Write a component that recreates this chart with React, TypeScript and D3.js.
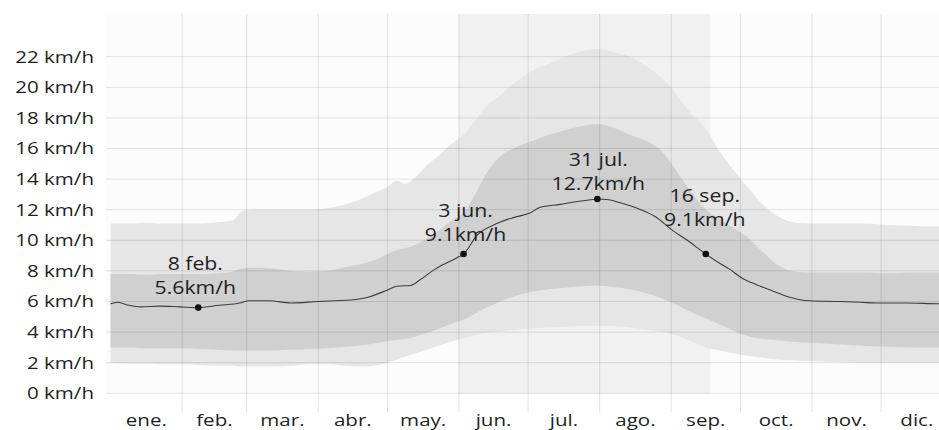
import React from 'react';
import * as d3 from 'd3';

const monthLabels = ['ene.', 'feb.', 'mar.', 'abr.', 'may.', 'jun.', 'jul.', 'ago.', 'sep.', 'oct.', 'nov.', 'dic.'];
const yTicks = [0, 2, 4, 6, 8, 10, 12, 14, 16, 18, 20, 22];

const bandDates = ['01-01','01-09','01-16','01-24','02-01','02-08','02-17','02-23','02-27','03-04','03-12','03-20','03-28','04-05','04-13','04-21','04-27','05-01','05-05','05-09','05-13','05-18','05-23','05-28','06-03','06-08','06-13','06-19','06-26','07-03','07-10','07-17','07-24','07-31','08-07','08-14','08-21','08-28','09-03','09-09','09-16','09-22','09-28','10-04','10-11','10-18','10-25','11-01','11-12','11-23','12-04','12-15','12-24','12-31'];
const p90 = [11.1,11.1,11.15,11.1,11.1,11.1,11.2,11.3,11.9,12.0,12.0,12.0,12.0,12.1,12.35,12.8,13.2,13.5,13.9,13.7,14.1,14.9,15.5,16.2,16.9,17.8,18.8,19.5,20.4,21.1,21.55,22.0,22.35,22.5,22.3,22.0,21.4,20.6,19.6,18.4,17.3,15.8,14.6,13.5,12.3,11.5,11.15,11.1,11.1,11.1,11.0,10.95,10.9,10.9];
const p75 = [7.8,7.8,7.75,7.8,7.8,7.8,7.85,7.95,8.15,8.2,8.15,8.0,7.95,8.0,8.25,8.5,8.8,9.1,9.35,9.5,9.7,10.1,10.6,11.2,11.8,13.0,14.4,15.5,16.1,16.5,16.9,17.2,17.45,17.6,17.35,16.9,16.5,15.8,14.6,13.3,12.0,11.4,10.8,10.2,9.2,8.3,7.95,7.9,7.9,7.9,7.85,7.9,7.9,7.9];
const p25 = [3.0,3.0,2.95,2.95,2.95,2.9,2.85,2.8,2.8,2.8,2.8,2.85,2.9,2.95,3.05,3.15,3.3,3.4,3.5,3.55,3.7,3.95,4.2,4.5,4.8,5.2,5.6,6.0,6.4,6.65,6.8,6.9,7.0,7.05,6.95,6.8,6.55,6.2,5.8,5.35,4.9,4.5,4.1,3.75,3.55,3.45,3.35,3.3,3.2,3.1,3.05,3.0,3.0,3.0];
const p10 = [2.0,1.95,1.95,1.9,1.9,1.85,1.8,1.8,1.75,1.75,1.75,1.8,1.9,1.9,1.8,1.75,1.85,2.0,2.2,2.4,2.6,2.85,3.1,3.35,3.6,3.8,3.95,4.05,4.15,4.25,4.3,4.35,4.4,4.4,4.4,4.3,4.15,4.0,3.8,3.45,3.0,2.8,2.6,2.45,2.3,2.2,2.15,2.1,2.05,2.0,2.0,2.0,2.0,2.0];

const meanDates = ['01-01','01-04','01-09','01-14','01-22','01-31','02-08','02-17','02-26','03-02','03-11','03-20','04-01','04-08','04-15','04-23','05-01','05-05','05-11','05-15','05-21','05-25','05-31','06-03','06-09','06-16','06-19','06-25','07-02','07-06','07-15','07-21','07-28','07-31','08-05','08-10','08-18','08-25','09-02','09-08','09-16','09-22','09-26','10-02','10-08','10-14','10-22','10-31','11-13','11-22','11-30','12-12','12-26','12-31'];
const meanValues = [5.85,5.95,5.75,5.65,5.7,5.65,5.6,5.75,5.9,6.05,6.05,5.9,6.0,6.05,6.1,6.3,6.75,7.0,7.05,7.4,8.05,8.4,8.85,9.1,10.35,11.0,11.2,11.5,11.8,12.15,12.35,12.5,12.65,12.7,12.65,12.45,12.05,11.55,10.6,10.0,9.1,8.5,8.15,7.5,7.1,6.75,6.3,6.05,6.0,5.95,5.9,5.9,5.85,5.85];

const highlightRange = ['06-01', '09-18'];

const annotationDates = ['02-08', '06-03', '07-31', '09-16'];
const annotationValues = [5.6, 9.1, 12.7, 9.1];
const annotationTitles = ['8 feb.', '3 jun.', '31 jul.', '16 sep.'];
const annotationLabels = ['5.6km/h', '9.1km/h', '12.7km/h', '9.1km/h'];

// layout only
const W = 939;
const H = 430;
const annotationOffsets: [number, number][] = [[-3, -14], [2, -13], [1, -9], [-1, -28]];

const parse = d3.timeParse('%Y-%m-%d');
const toDate = (s: string) => parse('2023-' + s) as Date;

export default function App() {
  const x = d3.scaleTime().domain([new Date(2023, 0, 1), new Date(2024, 0, 1)]).range([110.6, 952.6]);
  const y = d3.scaleLinear().domain([0, 22]).range([393.3, 56.7]);

  const bandRows = bandDates.map((d, i) => ({ date: toDate(d), p10: p10[i], p25: p25[i], p75: p75[i], p90: p90[i] }));
  const outerArea = d3.area<any>().x(d => x(d.date)).y0(d => y(d.p10)).y1(d => y(d.p90)).curve(d3.curveMonotoneX);
  const innerArea = d3.area<any>().x(d => x(d.date)).y0(d => y(d.p25)).y1(d => y(d.p75)).curve(d3.curveMonotoneX);
  const meanRows = meanDates.map((d, i) => ({ date: toDate(d), v: meanValues[i] }));
  const meanLine = d3.line<any>().x(d => x(d.date)).y(d => y(d.v)).curve(d3.curveMonotoneX);

  const monthStarts = d3.range(13).map(m => new Date(2023, m, 1));
  const monthCenters = d3.range(12).map(m => (x(monthStarts[m]) + x(monthStarts[m + 1])) / 2);

  const hx0 = x(toDate(highlightRange[0]));
  const hx1 = x(toDate(highlightRange[1]));

  const plotTop = 14;
  const plotBottom = 393.3;
  const vLineBottom = 412;
  const gridLeft = 106;

  const SX = 1.21;
  const SXA = 1.18;
  const font = '"Open Sans", sans-serif';
  const textColor = '#1f1f1f';
  const grid = 'rgba(0,0,0,0.11)';

  return (
    <svg width={W} height={H} style={{ position: 'absolute', left: 0, top: 0, display: 'block' }} fontFamily={font}>
      <rect x={0} y={0} width={W} height={H} fill="#ffffff" />
      <rect x={gridLeft} y={plotTop} width={W - gridLeft} height={plotBottom - plotTop} fill="#fcfcfc" />
      <rect x={hx0} y={plotTop} width={hx1 - hx0} height={plotBottom - plotTop} fill="#f1f1f1" />
      <path d={outerArea(bandRows) || ''} fill="#e6e6e6" />
      <path d={innerArea(bandRows) || ''} fill="#d0d0d0" />
      {yTicks.map(t => (
        <line key={'h' + t} x1={gridLeft} x2={W} y1={y(t)} y2={y(t)} stroke={grid} strokeWidth={1} />
      ))}
      {monthStarts.slice(1, 12).map((d, i) => (
        <line key={'v' + i} x1={x(d)} x2={x(d)} y1={plotTop} y2={vLineBottom} stroke={grid} strokeWidth={1} />
      ))}
      <path d={meanLine(meanRows) || ''} fill="none" stroke="#3c3c3c" strokeWidth={1.1} />
      {annotationDates.map((d, i) => {
        const px = x(toDate(d));
        const py = y(annotationValues[i]);
        const [dx, dy] = annotationOffsets[i];
        return (
          <g key={'a' + i}>
            <circle cx={px} cy={py} r={3.3} fill="#111" />
            <text transform={`translate(${px + dx},${py + dy - 24}) scale(${SXA},1)`} textAnchor="middle" fontSize={18} fill={textColor}>{annotationTitles[i]}</text>
            <text transform={`translate(${px + dx},${py + dy}) scale(${SXA},1)`} textAnchor="middle" fontSize={18} fill={textColor}>{annotationLabels[i]}</text>
          </g>
        );
      })}
      {yTicks.map(t => (
        <text key={'yl' + t} transform={`translate(94,${y(t) + 5.8}) scale(${SX},1)`} textAnchor="end" fontSize={17} fill={textColor}>{`${t} km/h`}</text>
      ))}
      {monthLabels.map((m, i) => (
        <text key={'ml' + i} transform={`translate(${monthCenters[i]},426) scale(${SX},1)`} textAnchor="middle" fontSize={17} fill={textColor}>{m}</text>
      ))}
    </svg>
  );
}
